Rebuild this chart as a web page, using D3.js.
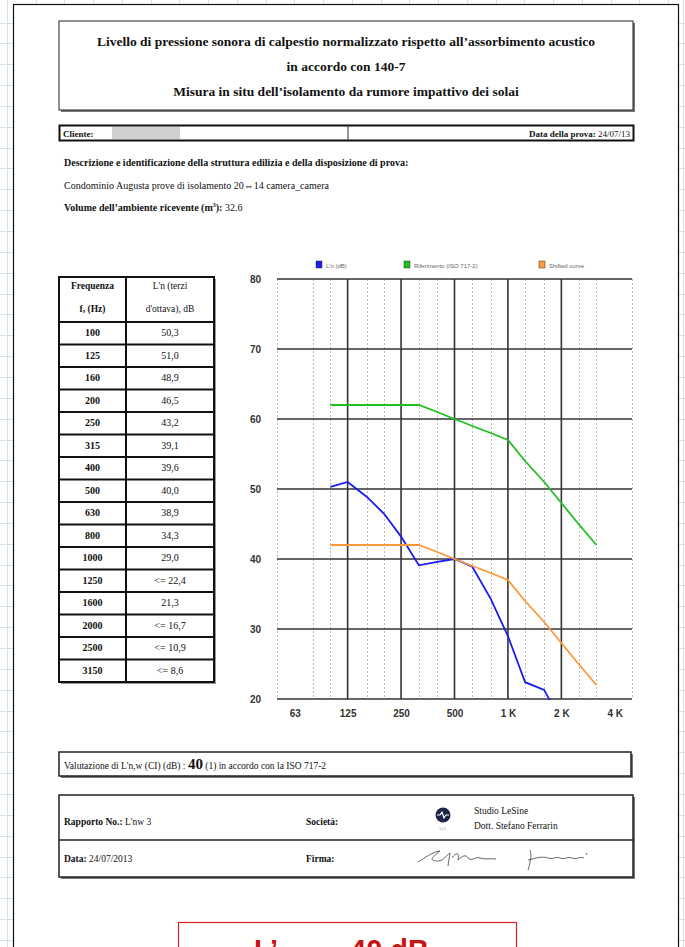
<!DOCTYPE html>
<html><head><meta charset="utf-8">
<script src="https://cdn.jsdelivr.net/npm/d3@7"></script>
<style>
html,body{margin:0;padding:0;background:#fff;overflow:hidden}
svg{display:block}
.serif{font-family:"Liberation Serif","Times New Roman",serif}
</style></head>
<body>
<svg id="c" width="685" height="947"></svg>
<script>
// ---------- data ----------
const freqs = [100,125,160,200,250,315,400,500,630,800,1000,1250,1600,2000,2500,3150];
const lnValues = [50.3,51.0,48.9,46.5,43.2,39.1,39.6,40.0,38.9,34.3,29.0,22.4,21.3,16.7,10.9,8.6];
const lnTable = ["50,3","51,0","48,9","46,5","43,2","39,1","39,6","40,0","38,9","34,3","29,0","<= 22,4","21,3","<= 16,7","<= 10,9","<= 8,6"];
const refValues = [62,62,62,62,62,62,61,60,59,58,57,54,51,48,45,42];
const shiftedValues = [42,42,42,42,42,42,41,40,39,38,37,34,31,28,25,22];
const seriesNames = ["L'n (dB)","Riferimento (ISO 717-2)","Shifted curve"];
const yTicks = [20,30,40,50,60,70,80];
const xTicks = [63,125,250,500,1000,2000,4000];
const xTickLabels = ["63","125","250","500","1 K","2 K","4 K"];
const majorFreqs = [125,250,500,1000,2000];
const minorFreqs = [50,80,100,160,200,315,400,630,800,1250,1600,2500,3150,5000];

const svg = d3.select("#c");

// ---------- spreadsheet background ----------
const bg = svg.append("g").attr("stroke","#d3e2ea").attr("stroke-width",1);
for (let y = 22.5; y < 947; y += 20.85) bg.append("line").attr("x1",0).attr("x2",685).attr("y1",Math.round(y)+0.5).attr("y2",Math.round(y)+0.5);
for (let x = 35.5; x < 685; x += 28.75) bg.append("line").attr("x1",Math.round(x)+0.5).attr("x2",Math.round(x)+0.5).attr("y1",0).attr("y2",947);
bg.append("line").attr("x1",7.5).attr("x2",7.5).attr("y1",0).attr("y2",947);
bg.append("line").attr("x1",683.5).attr("x2",683.5).attr("y1",0).attr("y2",947);

// page
svg.append("rect").attr("x",13.5).attr("y",4.5).attr("width",665).attr("height",960)
  .attr("fill","#fff").attr("stroke","#111").attr("stroke-width",1.2);

const doc = svg.append("g").attr("class","serif").attr("fill","#111");

function shadowBox(x,y,w,h,sw){
  doc.append("rect").attr("x",x+2).attr("y",y+2).attr("width",w).attr("height",h).attr("fill","#777");
  doc.append("rect").attr("x",x).attr("y",y).attr("width",w).attr("height",h).attr("fill","#fff").attr("stroke","#222").attr("stroke-width",sw);
}

// title
shadowBox(59,21,574,89,1);
const titleLines = ["Livello di pressione sonora di calpestio normalizzato rispetto all\u2019assorbimento acustico","in accordo con 140-7","Misura in situ dell\u2019isolamento da rumore impattivo dei solai"];
titleLines.forEach((t,i)=>doc.append("text").attr("x",346).attr("y",46+i*25).attr("text-anchor","middle")
  .attr("font-size",13.5).attr("font-weight","bold").text(t));

// client row
doc.append("rect").attr("x",59.5).attr("y",125.5).attr("width",574).attr("height",15).attr("fill","#fff").attr("stroke","#111").attr("stroke-width",2);
doc.append("rect").attr("x",112).attr("y",127).attr("width",68).attr("height",12).attr("fill","#cfcfcf");
doc.append("line").attr("x1",348).attr("x2",348).attr("y1",126).attr("y2",140).attr("stroke","#333");
doc.append("text").attr("x",63).attr("y",136.5).attr("font-size",9).attr("font-weight","bold").text("Cliente:");
doc.append("text").attr("x",630).attr("y",136.5).attr("font-size",9).attr("text-anchor","end")
  .html('<tspan font-weight="bold">Data della prova:</tspan> 24/07/13');

doc.append("text").attr("x",64).attr("y",166).attr("font-size",10).attr("font-weight","bold")
  .text("Descrizione e identificazione della struttura edilizia e della disposizione di prova:");
doc.append("text").attr("x",64).attr("y",189).attr("font-size",10)
  .text("Condominio Augusta prove di isolamento 20\u21D414 camera_camera");
doc.append("text").attr("x",64).attr("y",211).attr("font-size",10)
  .html('<tspan font-weight="bold">Volume dell\u2019ambiente ricevente (m</tspan><tspan font-weight="bold" font-size="6" dy="-4">3</tspan><tspan font-weight="bold" dy="4">):</tspan> 32.6');

// ---------- table ----------
const tx0=59, tx1=126, tx2=214, ty0=277, tyH=322, rowH=22.5;
const tbl = doc.append("g");
tbl.append("rect").attr("x",tx0+2).attr("y",ty0+2).attr("width",tx2-tx0).attr("height",tyH-ty0+rowH*freqs.length).attr("fill","#999");
tbl.append("rect").attr("x",tx0).attr("y",ty0).attr("width",tx2-tx0).attr("height",tyH-ty0+rowH*freqs.length).attr("fill","#fff").attr("stroke","#111").attr("stroke-width",2);
tbl.append("line").attr("x1",tx1).attr("x2",tx1).attr("y1",ty0).attr("y2",tyH+rowH*freqs.length).attr("stroke","#111").attr("stroke-width",2);
tbl.selectAll("line.r").data(d3.range(freqs.length)).join("line").attr("class","r")
  .attr("x1",tx0).attr("x2",tx2).attr("y1",i=>tyH+i*rowH).attr("y2",i=>tyH+i*rowH).attr("stroke","#111").attr("stroke-width",2);
[["Frequenza","f, (Hz)"],["L'n (terzi","d'ottava), dB"]].forEach((h,j)=>{
  const cx = j===0 ? (tx0+tx1)/2 : (tx1+tx2)/2;
  h.forEach((t,k)=>tbl.append("text").attr("x",cx).attr("y",289+k*23).attr("text-anchor","middle")
    .attr("font-size",9.5).attr("font-weight",j===0?"bold":"normal").text(t));
});
tbl.selectAll("text.f").data(freqs).join("text").attr("class","f")
  .attr("x",(tx0+tx1)/2).attr("y",(d,i)=>tyH+i*rowH+14).attr("text-anchor","middle")
  .attr("font-size",10).attr("font-weight","bold").text(d=>d);
tbl.selectAll("text.v").data(lnTable).join("text").attr("class","v")
  .attr("x",(tx1+tx2)/2).attr("y",(d,i)=>tyH+i*rowH+14).attr("text-anchor","middle")
  .attr("font-size",10).text(d=>d);

// ---------- chart ----------
const x = d3.scaleLog().domain([50,5000]).range([277,632]);
const y = d3.scaleLinear().domain([20,80]).range([699,279]);
const ch = svg.append("g");

ch.selectAll("line.mn").data(minorFreqs).join("line").attr("class","mn")
  .attr("x1",d=>Math.round(x(d))+0.5).attr("x2",d=>Math.round(x(d))+0.5).attr("y1",y(80)).attr("y2",y(20))
  .attr("stroke","#bbb").attr("stroke-width",1).attr("stroke-dasharray","2,2");
ch.selectAll("line.mj").data(majorFreqs).join("line").attr("class","mj")
  .attr("x1",d=>x(d)).attr("x2",d=>x(d)).attr("y1",y(80)).attr("y2",y(20))
  .attr("stroke","#333").attr("stroke-width",1.6);
ch.selectAll("line.h").data(yTicks).join("line").attr("class","h")
  .attr("x1",x(50)).attr("x2",x(5000)).attr("y1",d=>y(d)).attr("y2",d=>y(d))
  .attr("stroke","#333").attr("stroke-width",1.6);

const yAxis = ch.append("g").attr("transform","translate(264,0)")
  .call(d3.axisLeft(y).tickValues(yTicks).tickSize(0).tickFormat(d3.format("d")));
yAxis.select(".domain").remove();
yAxis.selectAll("text").attr("font-family","Arial, Liberation Sans, sans-serif").attr("font-size",10)
  .attr("font-weight","bold").attr("fill","#333").attr("dx",0);

const xAxis = ch.append("g").attr("transform",`translate(0,${y(20)+8})`)
  .call(d3.axisBottom(x).tickValues(xTicks).tickSize(0).tickFormat((d,i)=>xTickLabels[i]));
xAxis.select(".domain").remove();
xAxis.selectAll("text").attr("font-family","Arial, Liberation Sans, sans-serif").attr("font-size",10)
  .attr("font-weight","bold").attr("fill","#333");

svg.append("defs").append("clipPath").attr("id","pc").append("rect")
  .attr("x",x(50)).attr("y",y(80)).attr("width",x(5000)-x(50)).attr("height",y(20)-y(80)+1);

const line = d3.line().x((d,i)=>x(freqs[i])).y(d=>y(d));
const colors = ["#1c1cf0","#20c020","#ff9838"];
[lnValues,refValues,shiftedValues].forEach((vals,k)=>{
  ch.append("path").datum(vals).attr("d",line).attr("fill","none")
    .attr("stroke",colors[k]).attr("stroke-width",1.8).attr("clip-path","url(#pc)");
});

// legend
const legX = [316,404,539];
seriesNames.forEach((n,k)=>{
  ch.append("rect").attr("x",legX[k]).attr("y",261).attr("width",6).attr("height",7).attr("fill",colors[k]).attr("stroke","#333").attr("stroke-width",0.5);
  ch.append("text").attr("x",legX[k]+10).attr("y",267.5).attr("font-family","Arial, sans-serif").attr("font-size",6).attr("fill","#666").text(n);
});

// ---------- bottom boxes ----------
shadowBox(59,752,572,24,1.5);
doc.append("text").attr("x",64).attr("y",769).attr("font-size",9.5)
  .html('Valutazione di L\'n,w (CI) (dB) : <tspan font-size="15" font-weight="bold">40</tspan> (1) in accordo con la ISO 717-2');

shadowBox(59,795,574,82,1.5);
doc.append("line").attr("x1",59).attr("x2",633).attr("y1",840).attr("y2",840).attr("stroke","#222").attr("stroke-width",1.5);
doc.append("text").attr("x",64).attr("y",825).attr("font-size",9.5).html('<tspan font-weight="bold">Rapporto No.:</tspan> L\'nw 3');
doc.append("text").attr("x",306).attr("y",825).attr("font-size",9.5).attr("font-weight","bold").text("Società:");
doc.append("text").attr("x",64).attr("y",862).attr("font-size",9.5).html('<tspan font-weight="bold">Data:</tspan> 24/07/2013');
doc.append("text").attr("x",306).attr("y",862).attr("font-size",9.5).attr("font-weight","bold").text("Firma:");
doc.append("circle").attr("cx",443).attr("cy",815).attr("r",7.5).attr("fill","#1f2547");
doc.append("path").attr("d","M437,815 L440,815 L442,812 L444,818 L446,815 L449,815").attr("stroke","#fff").attr("stroke-width",1.2).attr("fill","none");
doc.append("text").attr("x",443).attr("y",830).attr("font-size",3).attr("text-anchor","middle").attr("fill","#888").text("S.L.S.");
doc.append("text").attr("x",474).attr("y",814).attr("font-size",9.5).text("Studio LeSine");
doc.append("text").attr("x",474).attr("y",829).attr("font-size",9.5).text("Dott. Stefano Ferrarin");
doc.append("path").attr("fill","none").attr("stroke","#555").attr("stroke-width",0.9)
  .attr("d","M418,862 C425,858 432,852 440,851 C434,856 428,860 436,861 C444,862 446,855 450,853 L448,866 M452,858 C456,852 460,852 458,860 C462,856 466,854 468,858 C472,862 476,856 480,858 C486,860 490,858 496,859 M530,850 C532,856 530,864 528,870 M528,860 C536,858 542,856 548,858 C552,860 556,856 560,858 C564,860 568,856 572,858 C576,860 580,856 584,858 M586,853 L587,855");

// red result box
svg.append("rect").attr("x",178.5).attr("y",922.5).attr("width",338).attr("height",50)
  .attr("fill","#fff").attr("stroke","#d22").attr("stroke-width",1.2);
svg.append("text").attr("y",960).attr("font-family","Arial, Liberation Sans, sans-serif").attr("font-weight","bold")
  .attr("font-size",29).attr("fill","#c81414")
  .html('<tspan x="254">L\u2019</tspan><tspan font-size="18" dy="8">n,w =</tspan><tspan x="350" dy="-8">40 dB</tspan>');
</script>
</body></html>
